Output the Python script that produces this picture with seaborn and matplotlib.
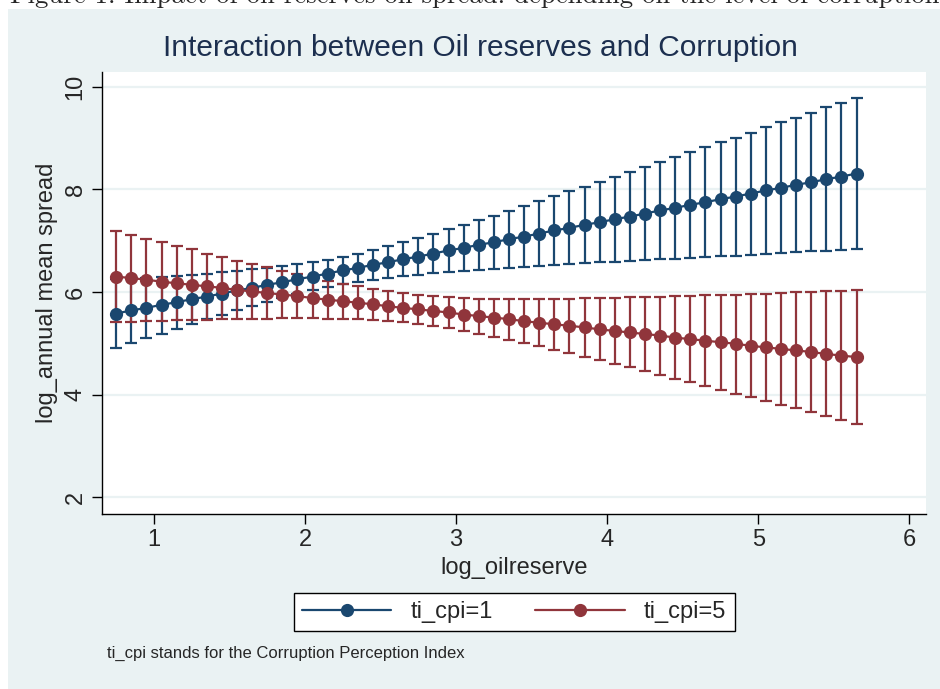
import numpy as np
import pandas as pd
import seaborn as sns
import matplotlib.pyplot as plt
from matplotlib.lines import Line2D
from matplotlib.patches import Rectangle

# predictive margins (log_oilreserve = 0.75 ... 5.65)
oil = [0.75, 0.85, 0.95, 1.05, 1.15, 1.25, 1.35, 1.45, 1.55, 1.65,
       1.75, 1.85, 1.95, 2.05, 2.15, 2.25, 2.35, 2.45, 2.55, 2.65,
       2.75, 2.85, 2.95, 3.05, 3.15, 3.25, 3.35, 3.45, 3.55, 3.65,
       3.75, 3.85, 3.95, 4.05, 4.15, 4.25, 4.35, 4.45, 4.55, 4.65,
       4.75, 4.85, 4.95, 5.05, 5.15, 5.25, 5.35, 5.45, 5.55, 5.65]

cpi1_mean = [5.58, 5.64, 5.69, 5.75, 5.80, 5.86, 5.91, 5.97, 6.03, 6.08,
             6.14, 6.19, 6.25, 6.30, 6.36, 6.42, 6.47, 6.53, 6.58, 6.64,
             6.69, 6.75, 6.81, 6.86, 6.92, 6.97, 7.03, 7.08, 7.14, 7.20,
             7.25, 7.31, 7.36, 7.42, 7.47, 7.53, 7.59, 7.64, 7.70, 7.75,
             7.81, 7.86, 7.92, 7.98, 8.03, 8.09, 8.14, 8.20, 8.25, 8.31]
cpi1_lo = [4.91, 5.01, 5.10, 5.19, 5.28, 5.38, 5.47, 5.55, 5.64, 5.73,
           5.81, 5.89, 5.96, 6.03, 6.09, 6.15, 6.19, 6.24, 6.28, 6.31,
           6.34, 6.37, 6.39, 6.41, 6.43, 6.45, 6.47, 6.49, 6.51, 6.53,
           6.54, 6.56, 6.58, 6.59, 6.61, 6.62, 6.64, 6.65, 6.67, 6.69,
           6.70, 6.71, 6.73, 6.74, 6.76, 6.77, 6.79, 6.80, 6.82, 6.83]
cpi1_hi = [6.25, 6.27, 6.28, 6.30, 6.32, 6.34, 6.36, 6.39, 6.41, 6.44,
           6.47, 6.50, 6.54, 6.58, 6.63, 6.69, 6.75, 6.82, 6.89, 6.97,
           7.05, 7.14, 7.22, 7.31, 7.40, 7.49, 7.58, 7.68, 7.77, 7.87,
           7.96, 8.05, 8.15, 8.24, 8.34, 8.44, 8.53, 8.63, 8.73, 8.82,
           8.92, 9.01, 9.11, 9.21, 9.31, 9.40, 9.50, 9.60, 9.69, 9.79]

cpi5_mean = [6.30, 6.27, 6.24, 6.20, 6.17, 6.14, 6.11, 6.08, 6.04, 6.01,
             5.98, 5.95, 5.92, 5.88, 5.85, 5.82, 5.79, 5.76, 5.72, 5.69,
             5.66, 5.63, 5.60, 5.56, 5.53, 5.50, 5.47, 5.43, 5.40, 5.37,
             5.34, 5.31, 5.27, 5.24, 5.21, 5.18, 5.15, 5.11, 5.08, 5.05,
             5.02, 4.99, 4.95, 4.92, 4.89, 4.86, 4.83, 4.79, 4.76, 4.73]
cpi5_lo = [5.42, 5.42, 5.43, 5.44, 5.45, 5.46, 5.46, 5.47, 5.47, 5.48,
           5.48, 5.49, 5.49, 5.49, 5.48, 5.48, 5.47, 5.45, 5.43, 5.41,
           5.38, 5.34, 5.29, 5.24, 5.19, 5.13, 5.07, 5.01, 4.94, 4.87,
           4.81, 4.74, 4.67, 4.60, 4.53, 4.46, 4.38, 4.31, 4.24, 4.17,
           4.09, 4.02, 3.95, 3.87, 3.80, 3.73, 3.65, 3.58, 3.50, 3.43]
cpi5_hi = [7.19, 7.11, 7.04, 6.97, 6.90, 6.83, 6.75, 6.68, 6.61, 6.55,
           6.48, 6.41, 6.35, 6.28, 6.22, 6.16, 6.11, 6.06, 6.01, 5.98,
           5.94, 5.92, 5.90, 5.88, 5.87, 5.87, 5.87, 5.86, 5.87, 5.87,
           5.87, 5.88, 5.88, 5.89, 5.90, 5.90, 5.91, 5.92, 5.93, 5.94,
           5.94, 5.95, 5.96, 5.97, 5.98, 5.99, 6.00, 6.01, 6.02, 6.03]

groups = ["ti_cpi=1", "ti_cpi=5"]
colors = ["#1a476f", "#90353b"]

sns.set_style("white")
plt.rcParams['font.family'] = ['Liberation Sans', 'DejaVu Sans']

df = pd.DataFrame({
    'log_oilreserve': oil + oil,
    'margin': cpi1_mean + cpi5_mean,
    'group': [groups[0]] * len(oil) + [groups[1]] * len(oil),
})

fig = plt.figure(figsize=(9.4, 6.89), dpi=100, facecolor='white')
# stata graph region
fig.patches.append(Rectangle((8 / 940, 0), 1 - 8 / 940, 1 - 9 / 689,
                             transform=fig.transFigure, facecolor='#eaf2f3',
                             edgecolor='none', zorder=-1))
# caption of the paper, cut off at the top of the image
fig.text(10 / 940, 1 - 3 / 689,
         "Figure 1: Impact of oil reserves on spread: depending on the level of corruption",
         family=['cmr10', 'Liberation Serif'], fontsize=19.3,
         ha='left', va='baseline')

ax = fig.add_axes([102 / 940, 175 / 689, 824 / 940, 442 / 689])
ax.set_facecolor('white')

# confidence intervals
for mean, lo, hi, c in [(cpi1_mean, cpi1_lo, cpi1_hi, colors[0]),
                        (cpi5_mean, cpi5_lo, cpi5_hi, colors[1])]:
    m = np.array(mean)
    ax.errorbar(oil, m, yerr=[m - np.array(lo), np.array(hi) - m], fmt='none',
                ecolor=c, elinewidth=1.6, capsize=4.5, capthick=1.6, zorder=2)

sns.lineplot(data=df, x='log_oilreserve', y='margin', hue='group',
             palette=colors, marker='o', markersize=9.5, markeredgewidth=0,
             linewidth=1.6, estimator=None, legend=False, ax=ax, zorder=3)

ax.set_xlim(0.656, 6.11)
ax.set_ylim(1.67, 10.29)
ax.set_xticks([1, 2, 3, 4, 5, 6])
ax.set_yticks([2, 4, 6, 8, 10])
ax.yaxis.grid(True, color='#eaf2f3', linewidth=1.6)
ax.xaxis.grid(False)
ax.set_axisbelow(True)
for s in ['top', 'right']:
    ax.spines[s].set_visible(False)
for s in ['left', 'bottom']:
    ax.spines[s].set_color('black')
    ax.spines[s].set_linewidth(1.0)
ax.tick_params(axis='both', direction='out', length=7, width=1.0,
               color='black', labelsize=17, pad=4, bottom=True, left=True)
for lab in ax.get_yticklabels():
    lab.set_rotation(90)
    lab.set_va('center')

ax.set_xlabel('log_oilreserve', fontsize=17, labelpad=4)
ax.set_ylabel('log_annual mean spread', fontsize=17, labelpad=5)

fig.text(0.5 * (163 + 797) / 940, 1 - 48 / 689,
         'Interaction between Oil reserves and Corruption',
         fontsize=21.5, color='#1c2f4f', ha='center', va='center')

handles = [Line2D([], [], color=c, marker='o', markersize=9.5,
                  markeredgewidth=0, linewidth=1.6) for c in colors]
leg = fig.legend(handles, groups, loc='center', ncol=2,
                 bbox_to_anchor=(514 / 940, 1 - 612 / 689),
                 fontsize=17, frameon=True, fancybox=False,
                 edgecolor='black', facecolor='white', handlelength=3.8,
                 columnspacing=1.8, handletextpad=0.8, borderpad=0.35)
leg.get_frame().set_linewidth(1.0)
leg.get_frame().set_alpha(1.0)

fig.text(107 / 940, 1 - 653 / 689,
         'ti_cpi stands for the Corruption Perception Index',
         fontsize=12, ha='left', va='center')

fig.savefig('out.png', dpi=100, facecolor=fig.get_facecolor())
